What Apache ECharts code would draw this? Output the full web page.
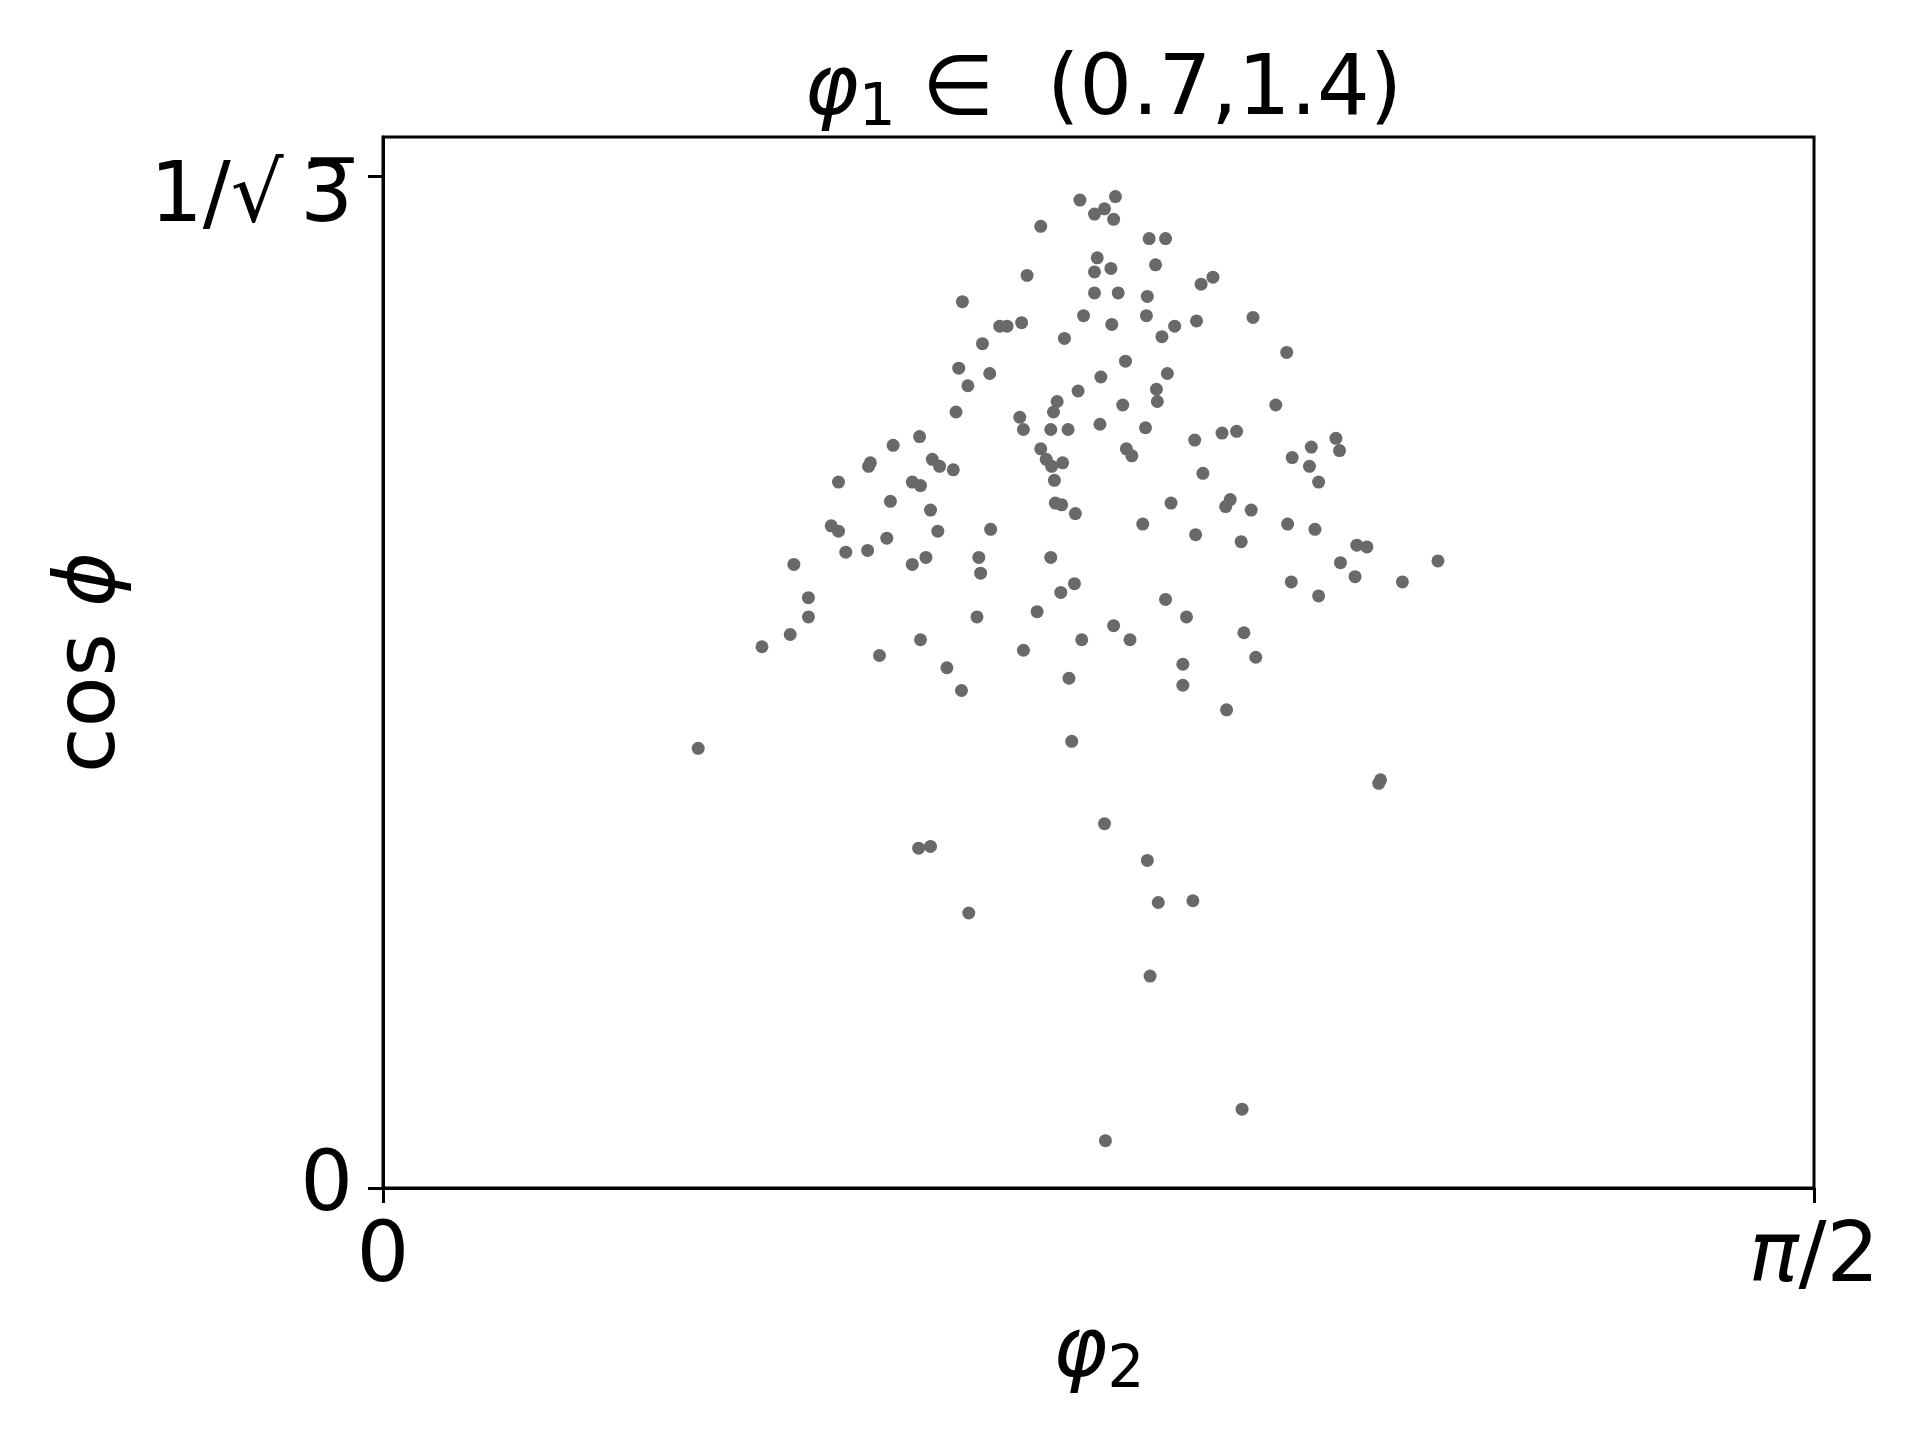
<!DOCTYPE html>
<html><head><meta charset="utf-8">
<script src="https://cdn.jsdelivr.net/npm/echarts@6/dist/echarts.min.js"></script>
<style>html,body{margin:0;padding:0;background:#fff}#c{width:1920px;height:1440px}</style>
</head><body><div id="c"></div>
<script>
// phi_2 values (x) and cos(phi) values (y)
const phi2 = [0.765,0.804,0.781,0.792,0.802,0.722,0.841,0.859,0.784,0.781,
0.799,0.848,0.707,0.911,0.898,0.636,0.781,0.807,0.839,0.769,
0.800,0.838,0.893,0.955,0.869,0.701,0.677,0.685,0.748,0.855,
0.658,0.815,0.992,0.632,0.666,0.642,0.861,0.788,0.763,0.849,
0.740,0.736,0.850,0.629,0.812,0.980,0.699,0.703,0.733,0.752,
0.787,0.837,0.589,0.560,0.891,0.921,0.937,0.722,0.728,0.734,
0.746,0.816,0.822,0.998,1.019,1.046,1.050,1.017,0.535,0.533,
0.603,0.611,0.626,0.500,0.581,0.590,0.737,0.900,1.027,0.557,
0.601,0.738,0.745,0.760,0.865,0.925,0.930,0.953,0.492,0.500,
0.553,0.609,0.667,0.834,0.892,0.942,0.993,1.023,0.508,0.532,
0.451,0.581,0.596,0.654,0.656,0.733,1.051,1.069,1.080,1.067,
1.119,1.158,0.467,0.467,0.997,0.759,0.744,0.859,1.027,0.447,
0.416,0.652,0.718,0.882,0.802,0.767,0.820,0.590,0.545,0.703,
0.945,0.958,0.619,0.878,0.753,0.635,0.878,0.926,0.346,0.756,
1.095,1.093,0.588,0.601,0.792,0.839,0.851,0.889,0.643,0.842,
0.943,0.793];
const cosPhi = [0.564,0.566,0.556,0.559,0.553,0.549,0.542,0.542,0.531,0.523,
0.525,0.527,0.521,0.520,0.516,0.506,0.511,0.511,0.509,0.498,
0.493,0.498,0.495,0.497,0.492,0.494,0.492,0.492,0.485,0.486,
0.482,0.472,0.477,0.468,0.465,0.458,0.465,0.463,0.455,0.456,
0.449,0.443,0.449,0.443,0.447,0.447,0.440,0.433,0.433,0.433,
0.436,0.434,0.429,0.424,0.427,0.431,0.432,0.422,0.416,0.412,
0.414,0.422,0.418,0.417,0.423,0.428,0.421,0.412,0.414,0.412,
0.416,0.412,0.410,0.403,0.403,0.401,0.404,0.408,0.403,0.392,
0.387,0.391,0.390,0.385,0.391,0.389,0.393,0.387,0.378,0.375,
0.371,0.375,0.376,0.379,0.373,0.369,0.379,0.376,0.363,0.364,
0.356,0.356,0.360,0.360,0.351,0.360,0.357,0.367,0.366,0.349,
0.346,0.358,0.337,0.326,0.346,0.345,0.340,0.336,0.338,0.316,
0.309,0.326,0.329,0.326,0.321,0.313,0.313,0.313,0.304,0.307,
0.317,0.303,0.297,0.299,0.291,0.284,0.287,0.273,0.251,0.255,
0.233,0.231,0.194,0.195,0.208,0.187,0.163,0.164,0.157,0.121,
0.045,0.027];

const xTickValues = [0, Math.PI / 2];
const xTickLabels = ['0', '{it|π}/2'];
const yTickValues = [0, 1 / Math.sqrt(3)];
const yTickLabels = ['0', '{rt|1/√\u20093\u0305}'];
const xRange = [0, Math.PI / 2];
const yRange = [0, 0.6];
const titleText = '{ti|φ}{ts|1}{tn| ∈  (0.7,1.4)}';
const xName = '{ti|φ}{ts|2}';
const yName = '{n|cos }{it|ϕ}';

const FONT = 'DejaVu Sans';
const FS = 83;
const points = phi2.map((x, i) => [x, cosPhi[i]]);

function pick(values, labels, v) {
  let best = 0;
  for (let i = 1; i < values.length; i++) {
    if (Math.abs(values[i] - v) < Math.abs(values[best] - v)) best = i;
  }
  return labels[best];
}

const rich = {
  n: { fontFamily: FONT, fontSize: FS, color: '#000' },
  it: { fontFamily: FONT, fontSize: FS, fontStyle: 'italic', color: '#000' },
  rt: { fontFamily: FONT, fontSize: FS, color: '#000', padding: [46, 0, 0, 0] },
  tn: { fontFamily: FONT, fontSize: FS, color: '#000', lineHeight: 100, verticalAlign: 'top' },
  ti: { fontFamily: FONT, fontSize: FS, fontStyle: 'italic', color: '#000', lineHeight: 100, verticalAlign: 'top' },
  ts: { fontFamily: FONT, fontSize: 58, color: '#000', lineHeight: 100, verticalAlign: 'top', padding: [30, 0, 0, 0] }
};

const chart = echarts.init(document.getElementById('c'), null, { renderer: 'canvas' });
chart.setOption({
  backgroundColor: '#fff',
  animation: false,
  title: {
    text: titleText,
    left: 1098, top: 46, textAlign: 'center',
    textStyle: { fontFamily: FONT, fontSize: FS, fontWeight: 'normal', color: '#000', rich: rich }
  },
  grid: {
    left: 383, right: 106, top: 137, bottom: 252,
    show: true, borderColor: '#000', borderWidth: 3, backgroundColor: '#fff'
  },
  xAxis: {
    type: 'value', min: xRange[0], max: xRange[1],
    name: xName, nameLocation: 'middle', nameGap: 125,
    nameTextStyle: { fontFamily: FONT, fontSize: FS, color: '#000', rich: rich },
    axisLine: { show: true, lineStyle: { color: '#000', width: 3 } },
    axisTick: { show: true, customValues: xTickValues, length: 15, lineStyle: { color: '#000', width: 3 } },
    axisLabel: {
      customValues: xTickValues, margin: 30,
      fontFamily: FONT, fontSize: FS, color: '#000', rich: rich,
      formatter: v => pick(xTickValues, xTickLabels, v)
    },
    splitLine: { show: false }
  },
  yAxis: {
    type: 'value', min: yRange[0], max: yRange[1],
    name: yName, nameLocation: 'middle', nameGap: 249, nameRotate: 90,
    nameTextStyle: { fontFamily: FONT, fontSize: FS, color: '#000', rich: rich },
    axisLine: { show: true, lineStyle: { color: '#000', width: 3 } },
    axisTick: { show: true, customValues: yTickValues, length: 15, lineStyle: { color: '#000', width: 3 } },
    axisLabel: {
      customValues: yTickValues, margin: 30,
      fontFamily: FONT, fontSize: FS, color: '#000', rich: rich,
      formatter: v => pick(yTickValues, yTickLabels, v)
    },
    splitLine: { show: false }
  },
  series: [{
    type: 'scatter',
    data: points,
    symbol: 'circle',
    symbolSize: 13,
    itemStyle: { color: '#696969', opacity: 1 },
    silent: true
  }]
});
</script>
</body></html>
